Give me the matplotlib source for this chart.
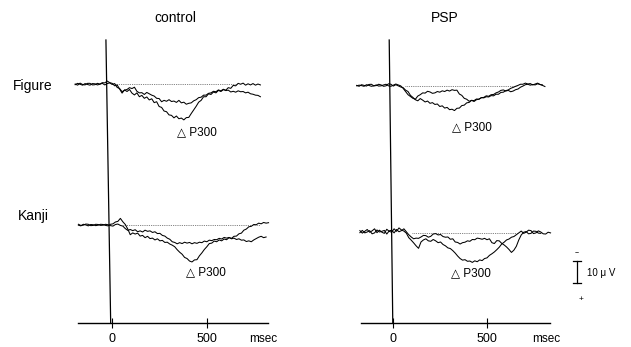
import matplotlib.pyplot as plt

plt.rcParams['font.family'] = ['Liberation Sans', 'DejaVu Sans']

# traces are sampled every 13 msec from a start time (msec)
# amplitudes in microvolts, positive (P300) drawn downward
STEP = 13

# --- control, Figure ---
ctrl_fig_start_a = -194
ctrl_fig_a = [0, 0.5, -0.4, 0.2, 0.4, -0.3, -0.3, 0.4, 0.3, -0.3, 0, -0.6, -0.5, -1.3, -0.6, -0.3,
              0.8, 0.4, 2.2, 4.0, 2.6, 3.3, 2.4, 4.0, 4.8, 3.9, 5.6, 5.0, 6.3, 5.7, 7.0, 6.5, 8.2,
              7.8, 9.9, 10.3, 11.9, 12.2, 13.6, 13.8, 14.9, 14.1, 15.3, 15.0, 15.8, 14.8, 14.7, 13.0,
              11.4, 9.8, 8.0, 7.2, 5.6, 5.6, 4.3, 4.6, 3.5, 3.9, 2.8, 3.3, 2.5, 2.7, 1.6, 1.9, 0.6,
              0.8, -0.3, 0.1, -0.4, 0.5, -0.1, 0.4, -0.2, 0.5, 0, 0.4]
ctrl_fig_start_b = -194
ctrl_fig_b = [0.3, -0.3, 0.1, 0.5, -0.2, 0.2, 0.5, -0.2, -0.1, 0.4, 0.1, -0.3, 0.4, -0.2, -0.5, 0.2,
              -0.2, 1.5, 2.0, 3.4, 2.7, 2.4, 1.6, 2.0, 1.4, 3.2, 3.9, 3.8, 4.6, 3.7, 4.3, 4.9, 5.3,
              6.3, 6.4, 7.8, 7.2, 7.6, 6.9, 7.7, 7.5, 8.1, 7.2, 8.3, 8.0, 8.9, 8.5, 8.3, 7.4, 6.9,
              6.0, 5.8, 4.9, 4.9, 4.1, 3.9, 3.2, 3.4, 2.6, 3.0, 2.3, 2.9, 2.7, 3.5, 3.2, 3.6, 3.0,
              3.4, 3.3, 3.9, 3.6, 4.3, 4.5, 4.9, 5.0, 5.6]

# --- control, Kanji ---
ctrl_kan_start_a = -177
ctrl_kan_a = [0.1, 0.4, -0.3, 0, 0.4, -0.2, -0.1, 0.3, 0.1, -0.3, -0.2, 0.2, 0.4, -0.3, -0.5, -1.3,
              -1.6, -2.9, -1.4, -0.2, 1.8, 4.3, 3.5, 4.0, 3.6, 4.9, 4.6, 5.6, 5.0, 6.0, 5.8, 6.6, 6.1,
              7.0, 6.8, 7.7, 7.6, 8.4, 8.9, 9.6, 10.9, 12.0, 12.9, 14.3, 14.8, 15.9, 16.3, 15.4,
              15.3, 13.6, 12.3, 10.8, 9.6, 8.2, 8.0, 7.1, 7.4, 6.6, 7.0, 6.2, 6.5, 5.6, 5.9, 5.0,
              4.9, 3.9, 3.6, 2.3, 1.8, 0.8, 0.6, -0.2, -0.1, -0.8, -0.5, -1.1, -0.8, -1.0]
ctrl_kan_start_b = -177
ctrl_kan_b = [-0.3, 0.2, 0.1, -0.4, -0.3, 0.3, 0.2, -0.3, -0.2, 0.2, 0.1, -0.3, -0.1, 0.3, 0.5,
              -0.2, -0.4, 0.2, 0.5, 1.6, 2.4, 2.0, 2.5, 2.1, 3.0, 2.6, 3.1, 2.3, 2.8, 2.6, 3.3, 3.0,
              3.8, 3.7, 4.6, 4.9, 5.8, 6.3, 7.4, 7.7, 8.3, 7.8, 8.2, 7.6, 8.0, 7.7, 8.3, 7.8, 8.1,
              7.6, 7.8, 7.1, 7.4, 6.7, 6.9, 6.4, 6.5, 5.9, 6.2, 5.5, 5.8, 5.5, 6.1, 5.8, 6.4, 6.1,
              6.7, 6.6, 7.3, 7.0, 7.4, 6.6, 6.0, 5.4, 5.0, 5.6, 5.3]

# --- PSP, Figure ---
psp_fig_start_a = -193
psp_fig_a = [-0.1, 0.3, -0.4, -0.1, 0.2, -0.5, -0.6, 0.1, 0, -0.6, -0.3, 0.3, 0.1, -0.8, -0.6, 0.2,
             -0.4, 0.1, 0.6, 0.9, 2.0, 2.6, 4.3, 5.2, 6.2, 6.7, 5.7, 6.4, 7.2, 6.8, 7.8, 7.5, 8.3,
             8.1, 9.2, 8.9, 9.9, 9.6, 10.6, 10.4, 11.0, 10.0, 9.9, 8.8, 8.6, 7.6, 7.4, 6.5, 6.6,
             5.9, 6.0, 5.3, 5.4, 4.9, 5.0, 4.4, 4.5, 3.8, 3.8, 3.0, 2.9, 2.2, 1.9, 1.2, 0.8, 0.3,
             -0.1, -0.6, -0.6, -1.1, -0.7, -0.9, -0.3, -0.7, -1.1, -0.5, -0.1, 0.4]
psp_fig_start_b = -193
psp_fig_b = [0.1, -0.2, 0, 0.3, -0.4, -0.1, 0.3, 0.1, -0.3, 0.2, 0.1, -0.3, -0.6, 0.1, 0.3, -0.2,
             -0.7, -0.3, 0.1, 1.2, 2.6, 4.0, 4.8, 5.6, 6.0, 4.6, 4.0, 3.2, 3.3, 2.5, 2.8, 3.4, 3.2,
             2.6, 2.9, 2.3, 2.6, 2.0, 2.4, 1.8, 2.1, 2.0, 3.7, 4.3, 5.6, 6.0, 6.9, 6.5, 7.0, 6.2,
             6.0, 5.3, 5.2, 4.5, 4.7, 4.0, 3.9, 3.2, 2.8, 2.1, 1.9, 2.4, 2.1, 2.7, 2.4, 1.8, 1.5,
             0.7, 0.2, -0.4, -0.6, -0.2, -0.5, -0.3, -0.8, -0.5, -0.3]

# --- PSP, Kanji ---
psp_kan_start_a = -176
psp_kan_a = [-0.9, 0.2, -0.6, -1.4, -0.2, -0.8, -1.7, 0, -1.1, -0.2, 0.3, -1.5, -0.6, -0.2, -1.7,
             -0.6, -2.1, -1.2, -0.7, 0.2, 2.2, 3.3, 4.5, 5.8, 6.9, 4.1, 3.2, 2.7, 3.6, 3.8, 3.0, 3.6,
             4.4, 4.1, 5.2, 5.8, 6.7, 7.0, 7.9, 9.0, 10.3, 11.4, 12.1, 11.9, 12.6, 12.5, 13.1, 12.4,
             12.8, 12.0, 12.3, 11.4, 11.1, 10.0, 9.3, 8.5, 7.5, 6.4, 5.0, 4.2, 3.2, 2.8, 2.0, 1.7,
             0.9, 0.1, -0.7, 0.3, -0.2, -1.1, -0.9, 0.4, 0.1, -0.8, -0.3, 0.5, 0.6, -0.2, 0.1]
psp_kan_start_b = -176
psp_kan_b = [0, -1.0, 0.1, -0.3, -0.9, 0.5, 0.1, -1.2, -0.3, -0.6, -1.0, 0.6, -0.8, -1.1, 0.1, -1.4,
             -0.4, -0.9, -1.7, -0.4, 0.9, 1.9, 2.7, 2.4, 2.5, 1.9, 1.2, 1.3, 2.0, 1.6, 0.6, 0.4, 1.0,
             0.8, 1.7, 2.0, 1.9, 2.9, 2.7, 4.1, 4.3, 5.0, 4.4, 4.2, 3.6, 3.8, 3.0, 3.1, 2.4, 2.6,
             2.9, 2.5, 3.1, 2.7, 4.4, 4.8, 3.5, 3.6, 4.7, 5.4, 6.3, 7.4, 8.7, 7.7, 6.0, 3.2, 1.0,
             -0.2, -0.5, 0.5, 0.3, -0.7, -0.6, 0.2, 0.3]

# dotted baselines (start, end) in msec
ctrl_fig_base = [16, 658]
ctrl_kan_base = [58, 779]
psp_fig_base = [64, 660]
psp_kan_base = [99, 658]

columns = ["control", "PSP"]
rows = ["Figure", "Kanji"]
tick_ms = [0, 500]


def times(start, values):
    return [start + STEP * i for i in range(len(values))]


def draw_panel(ax, offset, start_a, uv_a, start_b, uv_b, base):
    ax.plot(base, [offset, offset], color='0.35', lw=0.6, linestyle=(0, (1, 1.2)), clip_on=False)
    ax.plot(times(start_a, uv_a), [v + offset for v in uv_a], color='black', lw=0.75, clip_on=False)
    ax.plot(times(start_b, uv_b), [v + offset for v in uv_b], color='black', lw=0.75, clip_on=False)


def setup_axes(ax, xlim, onset_line):
    ax.set_xlim(xlim)
    ax.set_ylim(124.7, 0)
    for side in ['top', 'right', 'left']:
        ax.spines[side].set_visible(False)
    ax.spines['bottom'].set_linewidth(1.0)
    ax.set_yticks([])
    ax.set_xticks(tick_ms)
    ax.set_xticklabels([str(t) for t in tick_ms])
    ax.tick_params(axis='x', direction='inout', length=7, width=0.8, labelsize=9, pad=4)
    # stimulus onset line (slightly slanted in the scan)
    ax.plot(onset_line, [0, 124.7], color='black', lw=0.9, clip_on=False)
    ax.patch.set_visible(False)


fig = plt.figure(figsize=(6.31, 3.47), dpi=100)
ax_c = fig.add_axes([78 / 631, 24 / 347, 190 / 631, 283 / 347])
ax_p = fig.add_axes([361 / 631, 24 / 347, 189 / 631, 283 / 347])

setup_axes(ax_c, (-179, 821), [-32, -7])
setup_axes(ax_p, (-170, 835), [-20, -1])

draw_panel(ax_c, 19.4, ctrl_fig_start_a, ctrl_fig_a, ctrl_fig_start_b, ctrl_fig_b, ctrl_fig_base)
draw_panel(ax_c, 81.5, ctrl_kan_start_a, ctrl_kan_a, ctrl_kan_start_b, ctrl_kan_b, ctrl_kan_base)
draw_panel(ax_p, 20.1, psp_fig_start_a, psp_fig_a, psp_fig_start_b, psp_fig_b, psp_fig_base)
draw_panel(ax_p, 84.9, psp_kan_start_a, psp_kan_a, psp_kan_start_b, psp_kan_b, psp_kan_base)

# column titles
fig.text(175.6 / 631, 1 - 18 / 347, columns[0], fontsize=10, ha='center', va='center')
fig.text(445 / 631, 1 - 18 / 347, columns[1], fontsize=10, ha='center', va='center')

# P300 labels
ax_c.text(340, 40.5, "\u25b3 P300", fontsize=8.5, va='center')
ax_c.text(389, 102.2, "\u25b3 P300", fontsize=8.5, va='center')
ax_p.text(314, 38.3, "\u25b3 P300", fontsize=8.5, va='center')
ax_p.text(309, 102.6, "\u25b3 P300", fontsize=8.5, va='center')

# msec labels
ax_c.text(795, 131.7, "msec", fontsize=8.5, ha='center', va='center', clip_on=False)
ax_p.text(814, 131.7, "msec", fontsize=8.5, ha='center', va='center', clip_on=False)

# row labels
fig.text(13 / 631, 1 - 86 / 347, rows[0], fontsize=10, va='center')
fig.text(18 / 631, 1 - 216 / 347, rows[1], fontsize=10, va='center')

# 10 uV scale bar
bar_x = 979
ax_p.plot([bar_x, bar_x], [97.2, 107.2], color='black', lw=0.9, clip_on=False)
ax_p.plot([bar_x - 21, bar_x + 21], [97.2, 97.2], color='black', lw=0.9, clip_on=False)
ax_p.plot([bar_x - 21, bar_x + 21], [107.2, 107.2], color='black', lw=0.9, clip_on=False)
ax_p.text(bar_x, 95.4, "\u2212", fontsize=5, ha='center', va='bottom', clip_on=False)
ax_p.text(bar_x + 20, 114.5, "+", fontsize=6, ha='center', va='center', clip_on=False)
ax_p.text(1032, 102.6, "10 \u03bc V", fontsize=7, va='center', clip_on=False)

fig.savefig("out.png", dpi=100)
